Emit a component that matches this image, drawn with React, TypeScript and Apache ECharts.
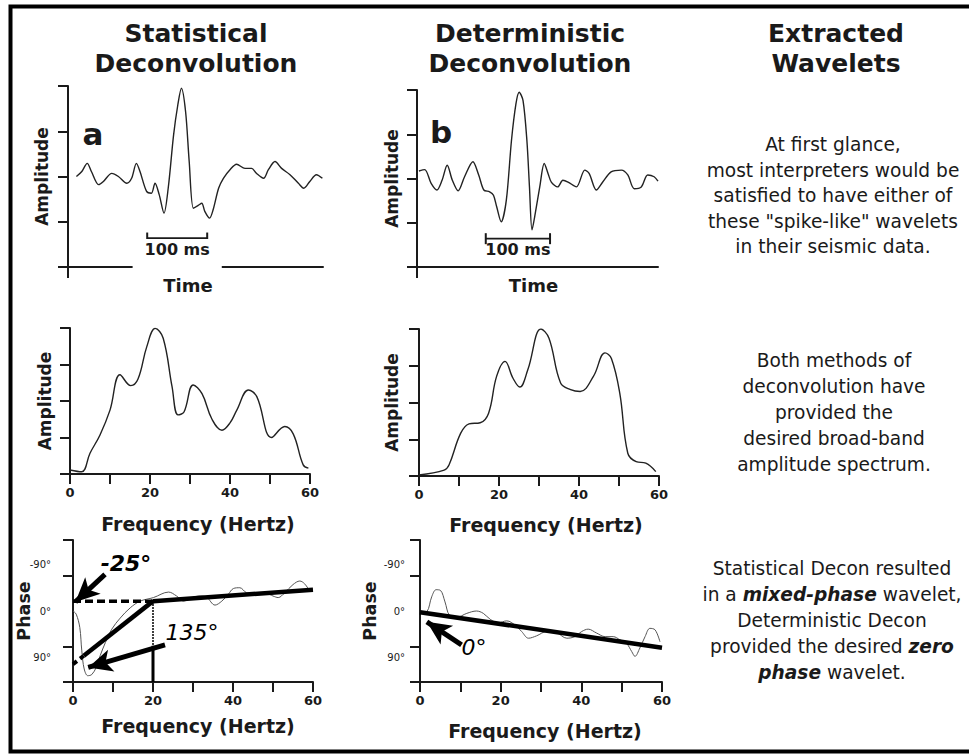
import React, { useEffect, useRef } from 'react';
import * as echarts from 'echarts';

const FONT = "'DejaVu Sans', sans-serif";
const INK = '#1a1a1a';
const CURVE = '#222';

// ---------- Top row: extracted wavelets (time domain) ----------
const waveletATime = [14, 23, 32, 39, 51, 59, 73, 84, 98, 106, 114, 120, 131, 139, 145, 152, 160, 167, 176, 183, 189, 196, 202, 209, 217, 223, 228, 236, 242, 251, 259, 270, 281, 295, 306, 314, 326, 334, 345, 356, 370, 384, 393, 403, 414, 424];
const waveletAAmp = [0, 0.11, 0.29, 0.11, -0.18, -0.11, 0.07, 0, -0.15, -0.04, 0.29, 0.11, -0.33, -0.37, -0.15, -0.4, -0.81, -0.26, 0.92, 1.58, 1.95, 1.43, 0.33, -0.7, -0.64, -0.59, -0.77, -0.92, -0.73, -0.26, -0.04, 0.15, 0.27, 0.18, 0.18, 0.07, -0.04, 0.15, 0.33, 0.18, 0.04, -0.15, -0.26, -0.11, 0.04, -0.04];

const waveletBTime = [3, 12, 22, 31, 39, 47, 55, 64, 74, 87, 96, 104, 113, 119, 124, 131, 139, 147, 154, 159, 165, 171, 175, 179, 184, 191, 198, 204, 209, 219, 227, 235, 248, 261, 268, 279, 289, 302, 318, 328, 338, 349, 359, 369, 375];
const waveletBAmp = [0.17, 0.2, -0.11, -0.26, -0.04, 0.3, -0.04, -0.28, 0.04, 0.38, 0.08, -0.26, -0.3, -0.38, -0.64, -0.98, -0.49, 0.86, 1.69, 1.95, 1.76, 0.86, -0.19, -1.16, -0.79, -0.19, 0.34, 0.11, -0.08, -0.19, -0.04, -0.08, -0.19, 0.19, 0.11, -0.26, -0.08, 0.15, 0.19, 0.08, -0.23, -0.19, 0.08, 0.04, -0.06];

// 100 ms scale bars (time in ms, amplitude level)
const scaleBarA = [[132, -1.36], [232, -1.36]];
const scaleBarB = [[107, -1.36], [207, -1.36]];
const scaleLabelA = [[182, -1.36]];
const scaleLabelB = [[157, -1.36]];

// ---------- Middle row: amplitude spectra ----------
const spectrumAFreq = [0, 2.9, 5, 7.5, 10, 12.5, 15.2, 17, 19.2, 21.3, 23.3, 25.5, 27, 28.5, 30.8, 33, 35.5, 38, 40, 41.7, 44.6, 46.7, 50.4, 53.7, 55.8, 58.3, 59.6];
const spectrumAAmp = [0.11, 0.06, 0.57, 1.07, 1.75, 2.72, 2.42, 2.6, 3.49, 3.99, 3.72, 2.4, 1.62, 1.7, 2.44, 2.2, 1.5, 1.2, 1.4, 1.75, 2.3, 2.12, 1.0, 1.3, 1.1, 0.25, 0.16];

const spectrumBFreq = [0, 6.3, 7.5, 10.4, 12.5, 15.3, 17.4, 19.4, 21.5, 23.5, 25.2, 27.2, 30.5, 32.5, 35.4, 37.9, 40.3, 43.6, 46.5, 48.1, 50.2, 52.2, 54.3, 56.7, 59.2];
const spectrumBAmp = [0.03, 0.16, 0.3, 1.16, 1.42, 1.45, 1.71, 2.71, 3.12, 2.66, 2.42, 2.89, 4.0, 3.75, 2.53, 2.35, 2.3, 2.71, 3.35, 3.2, 2.25, 0.62, 0.39, 0.35, 0.12];

// ---------- Bottom row: phase spectra (degrees, positive down) ----------
const phaseAFreq = [0, 0.8, 1.7, 2.2, 2.8, 3.7, 4.7, 5.8, 6.8, 8.1, 9.7, 11.8, 14.3, 16.8, 20.1, 23.9, 25.9, 27.6, 29.7, 31.8, 33.4, 35.5, 37.2, 38.8, 40.1, 41.7, 43.4, 45.9, 48.4, 50, 51.3, 52.9, 55, 56.7, 57.9, 59.2];
const phaseADeg = [0, 8, 42, 101, 147, 164, 161, 143, 113, 80, 46, 18, -8, -25, -34, -48, -38, -25, -34, -38, -35, -15, -25, -42, -57, -59, -46, -42, -44, -38, -34, -46, -67, -76, -69, -50];

const phaseBFreq = [0, 1.7, 2.9, 4, 5.1, 6.2, 7.3, 9.1, 11.6, 14, 15.7, 17.4, 19.4, 21.5, 23.6, 25.2, 26.9, 28.9, 31.4, 33.9, 36.4, 38.4, 40.1, 41.7, 43.8, 45.9, 47.9, 49.6, 51.2, 52.5, 53.3, 54.5, 55.8, 57, 58.3, 59.5];
const phaseBDeg = [6, 2, -36, -54, -52, -23, 11, 16, 6, 0, 6, 21, 30, 25, 36, 52, 69, 63, 52, 55, 69, 65, 52, 46, 56, 65, 65, 73, 82, 103, 115, 94, 65, 44, 48, 78];

// Interpretation lines on the phase panels
const phaseAFitLine = [[20, -25], [60, -54]];
const phaseAConstLine = [[0, -25], [20, -25]];
const phaseADiagDashed = [[0, 135], [2.7, 113.4]];
const phaseADiagSolid = [[2.7, 113.4], [20, -25]];
const phaseAVertDotted = [[20, -25], [20, 88]];
const phaseAVertSolid = [[20, 88], [20, 180]];
const phaseAArrows = [
  [[8, -93], [0.6, -23]],
  [[23, 86], [3.8, 143]],
];
const phaseALabels = [
  { pos: [13.25, -121], text: '-25°', weight: 'bold' },
  { pos: [29.75, 55], text: '135°', weight: 'normal' },
];
const phaseBFitLine = [[0, 3], [60, 93]];
const phaseBArrows = [[[10.3, 86], [1.7, 27.5]]];
const phaseBLabels = [{ pos: [13.4, 92.5], text: '0°', weight: 'normal' }];

const phaseTickValues = [-180, -90, 90, 180];
const phaseLabelValues = [-118, 0, 118];
const freqTickLabels = [0, 20, 40, 60];

const zip = (xs: number[], ys: number[]) => xs.map((x, i) => [x, ys[i]]);

const axisLine = { show: true, onZero: false, lineStyle: { color: INK, width: 2 } };
const axisTick = (extra: any = {}) => ({ show: true, inside: false, length: 10, lineStyle: { color: INK, width: 2 }, ...extra });

const nameStyle = (size: number, pad: number[] = [0, 0, 0, 0], weight = 'bold') => ({
  fontFamily: FONT, fontWeight: weight, fontSize: size, color: INK, padding: pad,
});

function timeX(gridIndex: number, max: number, padRight: number) {
  return {
    type: 'value', gridIndex, min: 0, max, interval: 10000,
    axisLine, axisTick: axisTick({ length: 11, customValues: [0] }),
    axisLabel: { show: false }, splitLine: { show: false },
    name: 'Time', nameLocation: 'middle', nameGap: 9, nameMoveOverlap: false,
    nameTextStyle: nameStyle(18, [0, padRight, 0, 0]),
  };
}
function ampTimeY(gridIndex: number, gap: number) {
  return {
    type: 'value', gridIndex, min: -2, max: 2, interval: 1,
    axisLine, axisTick: axisTick(), axisLabel: { show: false }, splitLine: { show: false },
    name: 'Amplitude', nameLocation: 'middle', nameRotate: 90, nameGap: gap, nameMoveOverlap: false,
    nameTextStyle: nameStyle(17),
  };
}
function freqX(gridIndex: number, gap: number, padLeft: number) {
  return {
    type: 'value', gridIndex, min: 0, max: 60, interval: 10,
    axisLine, axisTick: axisTick(),
    axisLabel: {
      show: true, margin: 12, fontFamily: FONT, fontWeight: 'bold', fontSize: 13, color: INK,
      customValues: freqTickLabels,
      formatter: (v: number) => (freqTickLabels.indexOf(v) >= 0 ? String(v) : ''),
    },
    splitLine: { show: false },
    name: 'Frequency (Hertz)', nameLocation: 'middle', nameGap: gap, nameMoveOverlap: false,
    nameTextStyle: nameStyle(19, [0, 0, 0, padLeft]),
  };
}
function ampFreqY(gridIndex: number, gap: number) {
  return {
    type: 'value', gridIndex, min: 0, max: 4, interval: 1,
    axisLine, axisTick: axisTick(), axisLabel: { show: false }, splitLine: { show: false },
    name: 'Amplitude', nameLocation: 'middle', nameRotate: 90, nameGap: gap, nameMoveOverlap: false,
    nameTextStyle: nameStyle(17),
  };
}
function phaseY(gridIndex: number, margin: number, gap: number) {
  return {
    type: 'value', gridIndex, min: -180, max: 180, interval: 90, inverse: true,
    axisLine, axisTick: axisTick({ customValues: phaseTickValues }),
    axisLabel: {
      show: true, margin, fontFamily: FONT, fontSize: 10, color: INK,
      customValues: phaseLabelValues,
      formatter: (v: number) => (v < 0 ? '-90°' : v > 0 ? '90°' : '0°'),
    },
    splitLine: { show: false },
    name: 'Phase', nameLocation: 'middle', nameRotate: 90, nameGap: gap, nameMoveOverlap: false,
    nameTextStyle: nameStyle(17.5),
  };
}

function curve(idx: number, data: number[][], width = 1.4, color = CURVE, smooth: number | boolean = 0.3) {
  return {
    type: 'line', xAxisIndex: idx, yAxisIndex: idx, data, smooth, showSymbol: false, symbol: 'none',
    lineStyle: { width, color }, silent: true, z: 3,
  };
}
function seg(idx: number, data: number[][], width: number, type: any = 'solid', extra: any = {}) {
  return {
    type: 'line', xAxisIndex: idx, yAxisIndex: idx, data, showSymbol: false, symbol: 'none',
    lineStyle: { width, color: '#000', type, cap: 'butt' }, silent: true, z: 4, ...extra,
  };
}
function arrows(list: number[][][]) {
  return {
    silent: true, symbol: ['none', 'arrow'], symbolSize: [17, 24],
    lineStyle: { width: 5, color: '#000', type: 'solid' }, itemStyle: { color: '#000' }, label: { show: false },
    emphasis: { disabled: true },
    data: list.map(([a, b]) => [{ coord: a }, { coord: b }]),
  };
}
function annot(idx: number, items: { pos: number[]; text: string; weight: string }[]) {
  return {
    type: 'scatter', xAxisIndex: idx, yAxisIndex: idx, symbolSize: 0, silent: true, z: 6,
    itemStyle: { opacity: 1 },
    data: items.map((it) => ({
      value: it.pos,
      label: {
        show: true, position: 'inside', formatter: it.text, fontFamily: FONT, fontStyle: 'italic',
        fontWeight: it.weight, fontSize: 22, color: '#000',
      },
    })),
  };
}
function scaleBar(idx: number, data: number[][]) {
  return {
    type: 'line', xAxisIndex: idx, yAxisIndex: idx, data, symbol: 'rect', symbolSize: [2, 11], showSymbol: true,
    itemStyle: { color: INK }, lineStyle: { width: 1.8, color: INK }, silent: true, z: 4,
  };
}
function scaleLabel(idx: number, data: number[][], bg: boolean) {
  return {
    type: 'scatter', xAxisIndex: idx, yAxisIndex: idx, data, symbolSize: 0, silent: true, z: 5,
    itemStyle: { opacity: 1 },
    label: {
      show: true, position: 'bottom', distance: 1, formatter: '100 ms', fontFamily: FONT, fontWeight: 'bold',
      fontSize: 16, color: INK,
      ...(bg ? { backgroundColor: '#fff', padding: [2, 12, 11, 12] } : { padding: [2, 0, 0, 0] }),
    },
  };
}

function text(x: number, y: number, t: string, size: number, weight = 'normal', lineHeight?: number, rich?: any) {
  return {
    type: 'text', x, y, silent: true,
    style: {
      text: t, x: 0, y: 0, fontFamily: FONT, fontSize: size, fontWeight: weight, fill: INK,
      align: 'center', verticalAlign: 'middle', lineHeight: lineHeight || Math.round(size * 1.2),
      ...(rich ? { rich } : {}),
    },
  };
}

const para = 18.6;
const bi = { fontFamily: FONT, fontSize: para, fontWeight: 'bold', fontStyle: 'italic', fill: INK, lineHeight: 26 };

export default function App() {
  const ref = useRef<HTMLDivElement>(null);
  useEffect(() => {
    document.body.style.margin = '0';
    if (!ref.current) return;
    const chart = echarts.init(ref.current, undefined, { renderer: 'svg' });
    const option: any = {
      animation: false,
      backgroundColor: '#fff',
      grid: [
        { left: 68, top: 86, width: 255, height: 181, outerBoundsMode: 'none' },
        { left: 417, top: 90, width: 241, height: 177, outerBoundsMode: 'none' },
        { left: 70, top: 328, width: 240, height: 146, outerBoundsMode: 'none' },
        { left: 419, top: 329, width: 240, height: 147, outerBoundsMode: 'none' },
        { left: 73, top: 540, width: 240, height: 142, outerBoundsMode: 'none' },
        { left: 420, top: 540, width: 242, height: 142, outerBoundsMode: 'none' },
      ],
      xAxis: [
        timeX(0, 425, 15),
        timeX(1, 375, 8),
        freqX(2, 40, 16),
        freqX(3, 39, 14),
        freqX(4, 34, 10),
        freqX(5, 39, 8),
      ],
      yAxis: [
        ampTimeY(0, 18),
        ampTimeY(1, 17),
        ampFreqY(2, 17),
        ampFreqY(3, 19),
        phaseY(4, 22, 40),
        phaseY(5, 15, 41),
      ],
      series: [
        curve(0, zip(waveletATime, waveletAAmp)),
        curve(1, zip(waveletBTime, waveletBAmp)),
        scaleBar(0, scaleBarA),
        scaleLabel(0, scaleLabelA, true),
        scaleBar(1, scaleBarB),
        scaleLabel(1, scaleLabelB, false),
        curve(2, zip(spectrumAFreq, spectrumAAmp), 1.4, CURVE, 0.4),
        curve(3, zip(spectrumBFreq, spectrumBAmp), 1.4, CURVE, 0.4),
        curve(4, zip(phaseAFreq, phaseADeg), 1, '#555', 0.35),
        curve(5, zip(phaseBFreq, phaseBDeg), 1, '#555', 0.35),
        seg(4, phaseAFitLine, 4.5, 'solid', { markLine: arrows(phaseAArrows) }),
        seg(4, phaseAConstLine, 3.5, [8, 4]),
        seg(4, phaseADiagDashed, 4, [5, 4]),
        seg(4, phaseADiagSolid, 4.5),
        seg(4, phaseAVertDotted, 2, [1.5, 1.5]),
        seg(4, phaseAVertSolid, 3),
        seg(5, phaseBFitLine, 4.5, 'solid', { markLine: arrows(phaseBArrows) }),
        annot(4, phaseALabels),
        annot(5, phaseBLabels),
      ],
      graphic: [
        {
          type: 'rect', silent: true, z: 100,
          shape: { x: 10.5, y: 6.5, width: 1000, height: 745 },
          style: { fill: 'none', stroke: '#000', lineWidth: 4 },
        },
        text(196, 33.5, 'Statistical', 25, 'bold', 29),
        text(196, 63, 'Deconvolution', 25, 'bold', 29),
        text(530, 33.5, 'Deterministic', 25, 'bold', 29),
        text(530, 63, 'Deconvolution', 25, 'bold', 29),
        text(836, 33.5, 'Extracted', 25, 'bold', 29),
        text(836, 63, 'Wavelets', 25, 'bold', 29),
        text(93, 134, 'a', 31, 'bold'),
        text(441, 132, 'b', 31, 'bold'),
        text(833, 195.5, 'At first glance,\nmost interpreters would be\nsatisfied to have either of\nthese "spike-like" wavelets\nin their seismic data.', para, 'normal', 25.5),
        text(834, 412, 'Both methods of\ndeconvolution have\nprovided the\ndesired broad-band\namplitude spectrum.', para, 'normal', 26),
        text(832, 620.5,
          'Statistical Decon resulted\nin a {bi|mixed-phase} wavelet,\nDeterministic Decon\nprovided the desired {bi|zero}\n{bi|phase} wavelet.',
          para, 'normal', 26, { bi }),
      ],
    };
    chart.setOption(option);
    return () => chart.dispose();
  }, []);
  return <div ref={ref} style={{ width: 969, height: 755 }} />;
}
